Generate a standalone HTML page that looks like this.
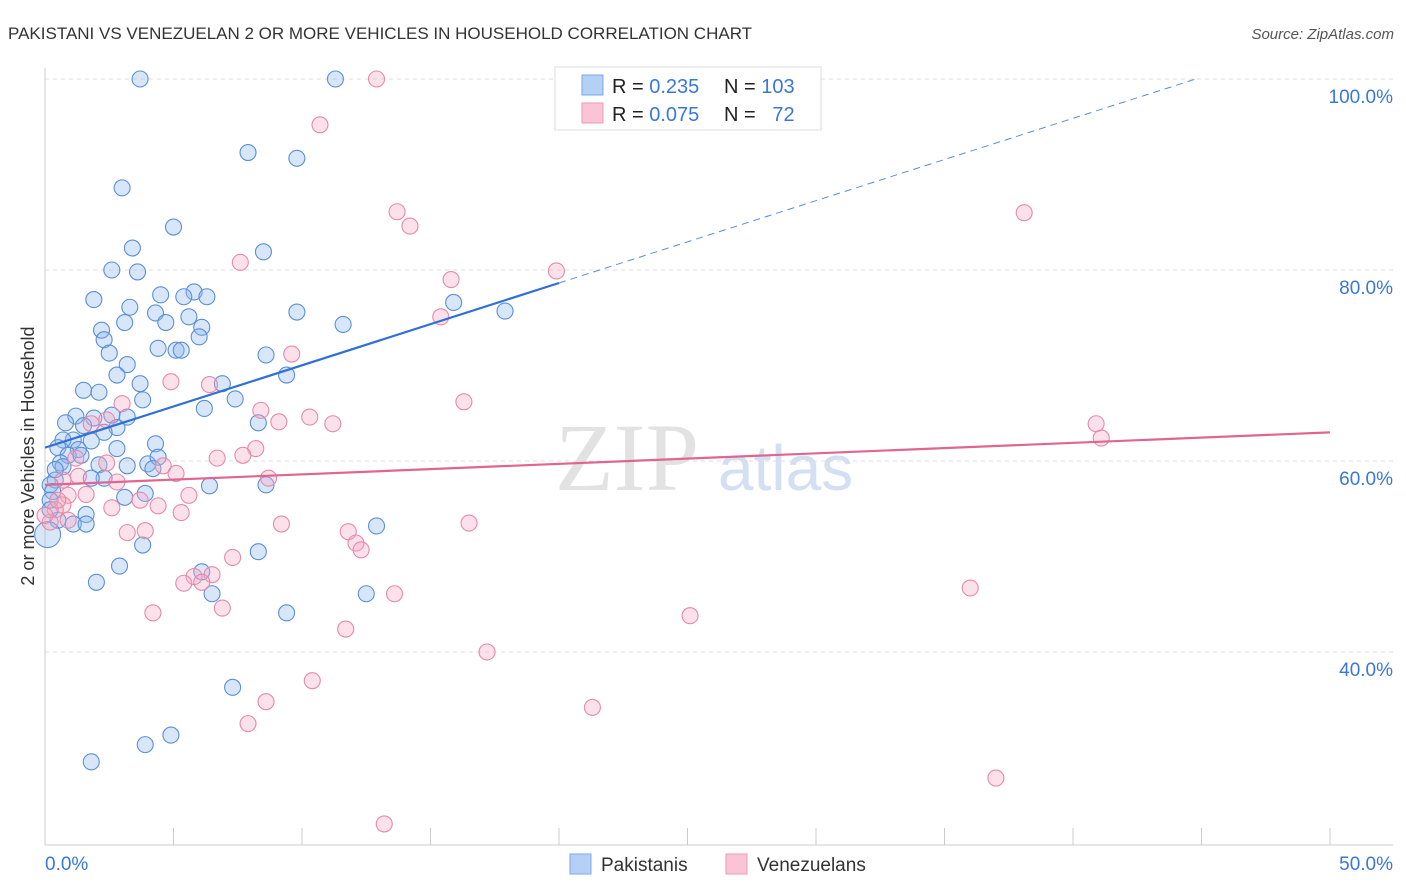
<!DOCTYPE html>
<html><head><meta charset="utf-8">
<style>
body{margin:0;background:#fff;font-family:"Liberation Sans",sans-serif;}
#wrap{position:relative;width:1406px;height:892px;overflow:hidden;}
</style></head>
<body><div id="wrap">
<svg id="svg" width="1406" height="892" xmlns="http://www.w3.org/2000/svg">
<text x="8" y="39" font-size="17" fill="#333">PAKISTANI VS VENEZUELAN 2 OR MORE VEHICLES IN HOUSEHOLD CORRELATION CHART</text>
<text x="1394" y="39" font-size="15" fill="#555" font-style="italic" text-anchor="end">Source: ZipAtlas.com</text>
<text x="0" y="0" transform="translate(34,456) rotate(-90)" font-size="18" fill="#333" text-anchor="middle">2 or more Vehicles in Household</text>
<text x="555" y="490" font-size="96" fill="#e2e2e2" font-family="Liberation Serif,serif">ZIP</text>
<text x="718" y="490" font-size="64" fill="#d3e0f3">atlas</text>
<g id="grid"></g><g id="pts"></g><g id="lines"></g>
<g>
<rect x="555" y="67" width="266" height="63" fill="#fff" stroke="#ddd"/>
<rect x="582" y="75" width="21" height="20" fill="#b5d0f5" stroke="#7aa7e8"/>
<rect x="582" y="103" width="21" height="20" fill="#fbc4d6" stroke="#ee9ab8"/>
<text x="612" y="93" font-size="20" fill="#222">R = <tspan fill="#3a78d8">0.235</tspan></text>
<text x="724" y="93" font-size="20" fill="#222">N = <tspan fill="#3a78d8">103</tspan></text>
<text x="612" y="121" font-size="20" fill="#222">R = <tspan fill="#3a78d8">0.075</tspan></text>
<text x="724" y="121" font-size="20" fill="#222">N = <tspan fill="#3a78d8">&#160; 72</tspan></text>
</g>
<g>
<rect x="570" y="854" width="21" height="20" fill="#b5d0f5" stroke="#7aa7e8"/>
<text x="601" y="871" font-size="19" fill="#333">Pakistanis</text>
<rect x="726" y="854" width="21" height="20" fill="#fbc4d6" stroke="#ee9ab8"/>
<text x="757" y="871" font-size="19" fill="#333">Venezuelans</text>
</g>
</svg>
<script>
const yTicks=[100,80,60,40];
const xTickLabels=["0.0%","50.0%"];
const blueX=[3.7,11.3,7.9,9.8,3.0,5.0,3.4,8.5,2.6,3.6,1.9,4.5,5.8,5.4,6.3,3.3,4.3,3.1,4.7,5.6,6.1,9.8,11.6,15.9,17.9,2.2,2.3,6.0,4.4,5.1,5.3,2.5,8.6,3.2,2.8,9.4,3.7,1.5,6.9,2.1,3.8,7.4,6.2,1.2,1.9,2.6,3.2,8.3,0.8,1.5,2.8,2.3,1.1,0.7,1.8,0.5,1.3,4.3,2.8,0.9,1.4,0.6,2.1,3.2,4.0,4.4,0.7,4.2,2.3,1.8,0.4,0.2,6.4,8.6,0.3,3.1,3.9,0.2,1.6,0.5,1.1,1.6,12.9,3.8,8.3,2.9,6.1,2.0,6.5,12.5,9.4,7.3,4.9,3.9,1.8,0.1,0.2,0.4];
const blueY=[100,100,92.3,91.7,88.6,84.5,82.3,81.9,80.0,79.8,76.9,77.4,77.7,77.2,77.2,76.1,75.5,74.5,74.5,75.1,74.0,75.6,74.3,76.6,75.7,73.7,72.7,73.0,71.8,71.6,71.6,71.3,71.1,70.1,69.0,69.0,68.1,67.4,68.1,67.2,66.4,66.5,65.5,64.7,64.5,64.8,64.6,64.0,64.0,63.7,63.5,63.0,62.2,62.2,62.1,61.4,61.2,61.8,61.3,60.6,60.6,59.8,59.6,59.5,59.7,60.4,59.4,59.2,58.2,58.2,58.0,57.5,57.4,57.5,56.8,56.2,56.6,55.9,54.4,53.8,53.4,53.4,53.2,51.2,50.5,49.0,48.4,47.3,46.1,46.1,44.1,36.3,31.3,30.3,28.5,52.3,54.9,59.1];
const pinkX=[12.9,10.7,21.8,13.7,14.2,38.1,7.6,19.9,15.8,15.4,9.6,4.9,6.4,8.4,10.3,9.1,11.2,16.3,40.9,41.1,3.0,2.4,1.8,8.2,7.7,6.7,1.2,2.4,4.6,5.1,8.7,1.3,2.8,1.6,0.9,5.6,3.7,4.4,2.6,0.7,0.4,5.3,0.9,0.2,9.2,11.8,16.5,3.2,3.9,12.1,12.3,7.3,6.5,5.8,6.1,5.4,13.6,6.9,4.2,36.0,25.1,11.7,17.2,10.4,8.6,21.3,7.9,37.0,13.2,0.7,0.5,0.0];
const pinkY=[100,95.2,99.7,86.1,84.6,86.0,80.8,79.9,79.0,75.1,71.2,68.3,68.0,65.3,64.6,64.1,63.9,66.2,63.9,62.4,66.0,64.3,63.9,61.3,60.6,60.3,60.3,59.8,59.5,58.7,58.2,58.4,57.8,56.5,56.4,56.4,55.9,55.3,55.1,55.4,54.9,54.6,53.8,53.6,53.4,52.6,53.5,52.5,52.7,51.4,50.7,49.9,48.1,47.9,47.3,47.2,46.1,44.6,44.1,46.7,43.8,42.4,40.0,37.0,34.8,34.2,32.5,26.8,22.0,58.0,55.9,54.3];
const blueFit=[61.4,0.862];
const pinkFit=[57.5,0.11];
const NS="http://www.w3.org/2000/svg";
const sx=v=>45+v*25.7;
const sy=v=>79+(100-v)*9.55;
function mk(tag,attrs,parent){const e=document.createElementNS(NS,tag);for(const k in attrs)e.setAttribute(k,attrs[k]);parent.appendChild(e);return e;}
const grid=document.getElementById('grid');
yTicks.forEach(t=>{
  const l=mk('line',{x1:45,x2:1393,y1:sy(t),y2:sy(t),stroke:'#ddd','stroke-dasharray':'4,4'},grid);
  
  
  const tx=mk('text',{x:1393,y:sy(t)+24,'font-size':19,fill:'#3a78d8','text-anchor':'end'},grid);
  tx.textContent=t.toFixed(1)+'%';
  
  
});
mk('line',{x1:45,x2:45,y1:68,y2:845,stroke:'#ccc'},grid);
mk('line',{x1:45,x2:1393,y1:845,y2:845,stroke:'#ccc'},grid);
for(let i=0;i<=10;i++){const l=mk('line',{x1:sx(i*5),x2:sx(i*5),y1:828,y2:845,stroke:'#ccc'},grid);
  
  }
const x0=mk('text',{x:45,y:870,'font-size':19,fill:'#3a78d8'},grid);x0.textContent=xTickLabels[0];


const x1=mk('text',{x:1393,y:870,'font-size':19,fill:'#3a78d8','text-anchor':'end'},grid);x1.textContent=xTickLabels[1];


const pts=document.getElementById('pts');
function draw(xs,ys,fill,stroke,name){
  xs.forEach((x,i)=>{
    const big=(name==='pakistani-point'&&i===xs.length-3);
    const c=mk('circle',{cx:sx(x),cy:sy(ys[i]),r:big?13:8,fill:fill,'fill-opacity':0.35,stroke:stroke,'stroke-width':1.1},pts);
    
    
  });
}
draw(blueX,blueY,'#8fb8ee','#5b8fd6','pakistani-point');
draw(pinkX,pinkY,'#f5a9c2','#e58aaa','venezuelan-point');
const lines=document.getElementById('lines');
const bx2=(100-blueFit[0])/blueFit[1];
const b1=mk('line',{x1:sx(0),y1:sy(blueFit[0]),x2:sx(20),y2:sy(blueFit[0]+20*blueFit[1]),stroke:'#2f6fd6','stroke-width':2.2},lines);


const b2=mk('line',{x1:sx(20),y1:sy(blueFit[0]+20*blueFit[1]),x2:sx(bx2),y2:sy(100),stroke:'#5b8fd6','stroke-width':1,'stroke-dasharray':'7,5'},lines);


const p1=mk('line',{x1:sx(0),y1:sy(pinkFit[0]),x2:sx(50),y2:sy(pinkFit[0]+50*pinkFit[1]),stroke:'#e0668f','stroke-width':2.2},lines);


</script>
</div></body></html>
